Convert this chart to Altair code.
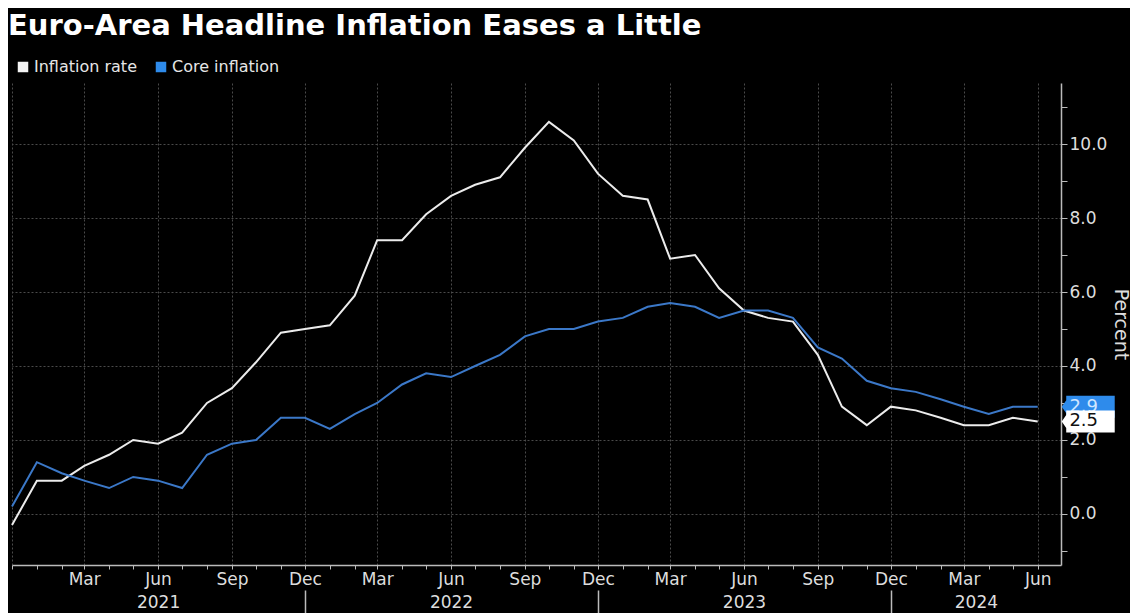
import altair as alt
import pandas as pd

# ---- data ----
months = pd.date_range("2020-12-01", "2024-06-01", freq="MS")
dates = [d.strftime("%Y-%m-%d") for d in months]

headline = [-0.3, 0.9, 0.9, 1.3, 1.6, 2.0, 1.9, 2.2, 3.0, 3.4, 4.1, 4.9, 5.0,
            5.1, 5.9, 7.4, 7.4, 8.1, 8.6, 8.9, 9.1, 9.9, 10.6, 10.1, 9.2,
            8.6, 8.5, 6.9, 7.0, 6.1, 5.5, 5.3, 5.2, 4.3, 2.9, 2.4, 2.9,
            2.8, 2.6, 2.4, 2.4, 2.6, 2.5]
core = [0.2, 1.4, 1.1, 0.9, 0.7, 1.0, 0.9, 0.7, 1.6, 1.9, 2.0, 2.6, 2.6,
        2.3, 2.7, 3.0, 3.5, 3.8, 3.7, 4.0, 4.3, 4.8, 5.0, 5.0, 5.2,
        5.3, 5.6, 5.7, 5.6, 5.3, 5.5, 5.5, 5.3, 4.5, 4.2, 3.6, 3.4,
        3.3, 3.1, 2.9, 2.7, 2.9, 2.9]
series_names = ["Inflation rate", "Core inflation"]
series_colors = ["#ececec", "#3b78c8"]
legend_colors = ["#f4f4f4", "#2e8beb"]
y_ticks = list(range(-1, 12))
year_label_dates = ["2021-06-01", "2022-06-01", "2023-06-01", "2024-03-16"]
year_sep_dates = ["2021-12-01", "2022-12-01", "2023-12-01"]

FONT = "DejaVu Sans"
AXIS_COLOR = "#bbbbbb"
LABEL_COLOR = "#dddddd"
GRID_COLOR = "#4a4a4a"


def ms(s):
    return int(pd.Timestamp(s, tz="UTC").timestamp() * 1000)


df = pd.DataFrame({
    "date": dates * 2,
    "value": headline + core,
    "series": [series_names[0]] * len(dates) + [series_names[1]] * len(dates),
})
legend_df = pd.DataFrame({
    "key": series_names,
    "date": [dates[-1]] * 2,
    "value": [headline[-1], core[-1]],
})
last_core = pd.DataFrame({"date": [dates[-1]], "value": [core[-1]]})
last_head = pd.DataFrame({"date": [dates[-1]], "value": [headline[-1]]})

x_scale = alt.Scale(type="utc", domain=[ms("2020-12-01"), ms("2024-06-30")])
y_scale = alt.Scale(domain=[-1.38, 11.65], nice=False, zero=False)

month_ticks = [ms(d) for d in dates]
quarter_test = "indexof([2,5,8,11], utcmonth(datum.value)) >= 0"

x_axis = alt.Axis(
    orient="bottom",
    values=month_ticks,
    labelExpr="(" + quarter_test + " && datum.value > " + str(month_ticks[0]) +
              ") ? utcFormat(datum.value, '%b') : ''",
    grid=True,
    gridColor=GRID_COLOR,
    gridDash=[2, 2],
    gridOpacity={"condition": {"test": "!(" + quarter_test + ")", "value": 0}, "value": 1},
    domainColor=AXIS_COLOR,
    domainWidth=1.5,
    tickColor=AXIS_COLOR,
    tickSize=4,
    labelPadding=2,
    labelFont=FONT,
    labelFontSize=17,
    labelColor=LABEL_COLOR,
    labelOverlap=False,
    labelFlush=False,
    labelBound=False,
    title=None,
)

year_axis = alt.Axis(
    orient="bottom",
    offset=25,
    values=[ms(d) for d in year_label_dates + year_sep_dates],
    labelExpr="utcmonth(datum.value) == 11 ? '' : utcFormat(datum.value, '%Y')",
    grid=False,
    domain=False,
    ticks=True,
    tickSize=23,
    tickColor=AXIS_COLOR,
    tickWidth=1.5,
    tickOpacity={"condition": {"test": "utcmonth(datum.value) != 11", "value": 0}, "value": 1},
    labelPadding=-19,
    labelFont=FONT,
    labelFontSize=17,
    labelColor=LABEL_COLOR,
    labelOverlap=False,
    labelFlush=False,
    labelBound=False,
    title=None,
)

y_axis = alt.Axis(
    orient="right",
    values=y_ticks,
    labelExpr="datum.value % 2 == 0 ? format(datum.value, '.1f') : ''",
    grid=True,
    gridColor=GRID_COLOR,
    gridDash=[2, 2],
    gridOpacity={"condition": {"test": "datum.value % 2 != 0", "value": 0}, "value": 1},
    domainColor=AXIS_COLOR,
    domainWidth=1.5,
    tickColor=AXIS_COLOR,
    tickSize=6,
    labelPadding=2,
    labelFont=FONT,
    labelFontSize=17,
    labelColor=LABEL_COLOR,
    title="Percent",
    titleAngle=90,
    titleFont=FONT,
    titleFontSize=19,
    titleFontWeight="normal",
    titleColor=LABEL_COLOR,
    titlePadding=4,
)

legend = alt.Legend(
    orient="none",
    legendX=3,
    legendY=-24,
    direction="horizontal",
    title=None,
    symbolType="square",
    symbolSize=110,
    symbolStrokeWidth=0,
    symbolOpacity=1,
    labelFont=FONT,
    labelFontSize=16,
    labelColor="#e6e6e6",
    labelOffset=3,
    columnPadding=16,
    padding=0,
)

head_line = alt.Chart(df).transform_filter(
    alt.datum.series == series_names[0]
).mark_line(strokeWidth=2, color=series_colors[0]).encode(
    x=alt.X("date:T", scale=x_scale, axis=x_axis),
    y=alt.Y("value:Q", scale=y_scale, axis=y_axis),
)

core_line = alt.Chart(df).transform_filter(
    alt.datum.series == series_names[1]
).mark_line(strokeWidth=2, color=series_colors[1]).encode(
    x=alt.X("date:T", scale=x_scale, axis=None),
    y=alt.Y("value:Q", scale=y_scale),
)

legend_layer = alt.Chart(legend_df).mark_square(size=1, opacity=0.001).encode(
    x=alt.X("date:T", scale=x_scale, axis=None),
    y=alt.Y("value:Q", scale=y_scale),
    fill=alt.Fill("key:N", scale=alt.Scale(domain=series_names, range=legend_colors),
                  legend=legend, sort=series_names),
)

box_path = "M-1.12,0 L-0.94,-0.26 L-0.94,-0.44 L1,-0.44 L1,0.44 L-0.94,0.44 L-0.94,0.26 Z"

blue_box = alt.Chart(last_core).mark_point(
    shape=box_path, size=2500, filled=True, fill="#2e8beb", opacity=1, strokeWidth=0, xOffset=52
).encode(x=alt.X("date:T", scale=x_scale, axis=None), y=alt.Y("value:Q", scale=y_scale))

blue_text = alt.Chart(last_core).mark_text(
    dx=46, align="center", baseline="middle", font=FONT, fontSize=18, color="#cfe6ff"
).encode(x=alt.X("date:T", scale=x_scale, axis=None), y=alt.Y("value:Q", scale=y_scale),
         text=alt.Text("value:Q", format=".1f"))

white_box = alt.Chart(last_head).mark_point(
    shape=box_path, size=2500, filled=True, fill="#ffffff", opacity=1, strokeWidth=0, xOffset=52
).encode(x=alt.X("date:T", scale=x_scale, axis=None), y=alt.Y("value:Q", scale=y_scale))

white_text = alt.Chart(last_head).mark_text(
    dx=46, align="center", baseline="middle", font=FONT, fontSize=18, color="#111111"
).encode(x=alt.X("date:T", scale=x_scale, axis=None), y=alt.Y("value:Q", scale=y_scale),
         text=alt.Text("value:Q", format=".1f"))

year_layer = alt.Chart(last_head).mark_point(opacity=0).encode(
    x=alt.X("date:T", scale=x_scale, axis=year_axis),
)

chart = alt.layer(
    head_line, core_line, legend_layer, blue_box, blue_text, white_box, white_text, year_layer
).resolve_axis(x="independent").properties(
    width=1049,
    height=482,
    padding={"top": 4, "left": 0, "right": 0, "bottom": 0},
    background="#000000",
    title=alt.Title(
        "Euro-Area Headline Inflation Eases a Little",
        anchor="start",
        font=FONT,
        fontSize=29,
        fontWeight="bold",
        color="#ffffff",
        offset=18,
    ),
).configure_view(stroke=None)

chart.save("out.html", embed_options={"renderer": "svg", "actions": False})
